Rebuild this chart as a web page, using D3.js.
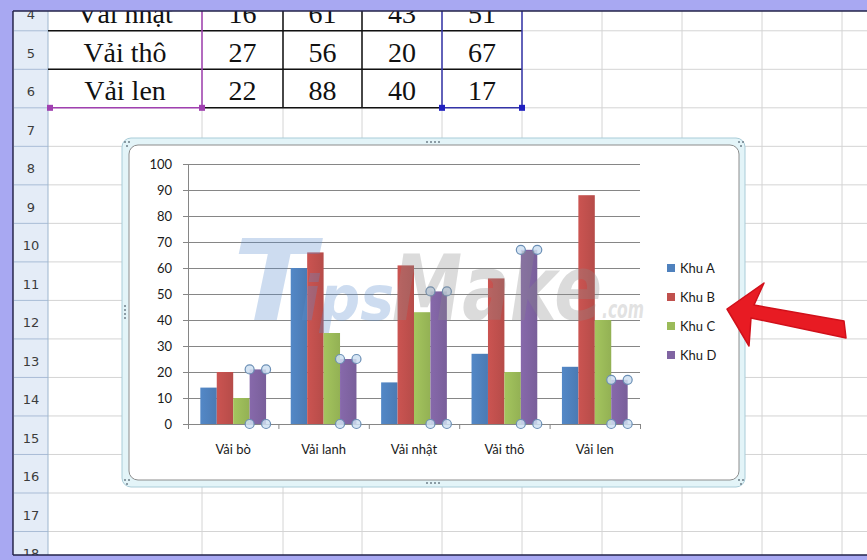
<!DOCTYPE html>
<html>
<head>
<meta charset="utf-8">
<script src="https://cdn.jsdelivr.net/npm/d3@7"></script>
<style>
  body { margin: 0; background: #fff; }
  svg { display: block; }
</style>
</head>
<body>
<svg id="svg0"></svg>
<script>
// chart data
let categories = ['Vải bò', 'Vải lanh', 'Vải nhật', 'Vải thô', 'Vải len'];
let seriesNames = ['Khu A', 'Khu B', 'Khu C', 'Khu D'];
let khuA = [14, 60, 16, 27, 22];
let khuB = [20, 66, 61, 56, 88];
let khuC = [10, 35, 43, 20, 40];
let khuD = [21, 25, 51, 67, 17];
let yTicks = [0, 10, 20, 30, 40, 50, 60, 70, 80, 90, 100];

// sheet rows visible in the screenshot, categories[0] sits in row 2
let rowNumbers = [4, 5, 6, 7, 8, 9, 10, 11, 12, 13, 14, 15, 16, 17, 18];
let firstDataRow = 2;

let values = [khuA, khuB, khuC, khuD];
let colors = ['#4F81BD', '#C0504D', '#9BBB59', '#8064A2'];

let width = 867, height = 560;
let svg = d3.select('#svg0').attr('width', width).attr('height', height);
let defs = svg.append('defs');

// window frame
svg.append('rect').attr('width', width).attr('height', height).style('fill', '#A8A8F2');
let sheet = {left: 13, top: 11, right: 867, bottom: 555};
defs.append('clipPath').attr('id', 'sheetClip').append('rect')
    .attr('x', sheet.left).attr('y', sheet.top)
    .attr('width', sheet.right - sheet.left).attr('height', sheet.bottom - sheet.top);
svg.append('rect').attr('x', sheet.left).attr('y', sheet.top)
    .attr('width', sheet.right - sheet.left).attr('height', sheet.bottom - sheet.top)
    .style('fill', '#fff');
let ws = svg.append('g').attr('clip-path', 'url(#sheetClip)');

// rows / columns of the worksheet
let rowTop = d3.scaleLinear().domain([6, 17]).range([69.3, 493]);
let colEdges = [48, 202, 283, 362, 442, 522, 602, 682, 762, 842, 922];
let headerX = [sheet.left + 1, 48];

ws.selectAll('.hline').data(d3.range(2, 20)).enter().append('line')
    .attr('class', 'hline')
    .attr('x1', headerX[1]).attr('x2', sheet.right)
    .attr('y1', d=>rowTop(d)).attr('y2', d=>rowTop(d))
    .style('stroke', '#D4D4D4').style('stroke-width', 1);
ws.selectAll('.vline').data(colEdges.slice(1)).enter().append('line')
    .attr('class', 'vline')
    .attr('x1', d=>d).attr('x2', d=>d)
    .attr('y1', sheet.top).attr('y2', sheet.bottom)
    .style('stroke', '#D4D4D4').style('stroke-width', 1);

// row header
ws.append('rect').attr('x', headerX[0]).attr('y', sheet.top)
    .attr('width', headerX[1] - headerX[0]).attr('height', sheet.bottom - sheet.top)
    .style('fill', '#E4ECF7');
ws.selectAll('.hsep').data(rowNumbers).enter().append('line')
    .attr('class', 'hsep')
    .attr('x1', headerX[0]).attr('x2', headerX[1])
    .attr('y1', d=>rowTop(d + 1)).attr('y2', d=>rowTop(d + 1))
    .style('stroke', '#A9BCD6').style('stroke-width', 1);
ws.append('line').attr('x1', headerX[1]).attr('x2', headerX[1])
    .attr('y1', sheet.top).attr('y2', sheet.bottom)
    .style('stroke', '#9EB6CE').style('stroke-width', 1);
ws.selectAll('.rownum').data(rowNumbers).enter().append('text')
    .attr('class', 'rownum')
    .attr('x', (headerX[0] + headerX[1]) / 2)
    .attr('y', d=>(rowTop(d) + rowTop(d + 1)) / 2 + 3)
    .text(d=>d)
    .style('font-family', 'DejaVu Sans').style('font-size', '13px').style('fill', '#3C3C3C')
    .style('text-anchor', 'middle').style('dominant-baseline', 'central');

// source table (rows 2..6, only 4..6 visible)
let tableRows = categories.map((c, i)=>({row: firstDataRow + i, cells: [c].concat(values.map(s=>s[i]))}));
let tbl = ws.append('g');
tableRows.forEach(r=>{
    r.cells.forEach((v, j)=>{
        tbl.append('text')
            .attr('x', (colEdges[j] + colEdges[j + 1]) / 2)
            .attr('y', (rowTop(r.row) + rowTop(r.row + 1)) / 2 + 2)
            .text(v)
            .style('font-family', 'Liberation Serif').style('font-size', '28px').style('fill', '#111')
            .style('text-anchor', 'middle').style('dominant-baseline', 'central');
    });
});
let lastRow = firstDataRow + categories.length;
tbl.selectAll('.trow').data(d3.range(firstDataRow, lastRow)).enter().append('line')
    .attr('class', 'trow')
    .attr('x1', colEdges[0]).attr('x2', colEdges[5])
    .attr('y1', d=>rowTop(d)).attr('y2', d=>rowTop(d))
    .style('stroke', '#111').style('stroke-width', 1.5);
let tableBottom = rowTop(lastRow);
let borderSegs = [
    {x1: colEdges[1], y1: sheet.top - 50, x2: colEdges[1], y2: tableBottom, c: '#A040B0'},
    {x1: colEdges[2], y1: sheet.top - 50, x2: colEdges[2], y2: tableBottom, c: '#111'},
    {x1: colEdges[3], y1: sheet.top - 50, x2: colEdges[3], y2: tableBottom, c: '#111'},
    {x1: colEdges[4], y1: sheet.top - 50, x2: colEdges[4], y2: tableBottom, c: '#3434A8'},
    {x1: colEdges[5], y1: sheet.top - 50, x2: colEdges[5], y2: tableBottom, c: '#3434A8'},
    {x1: colEdges[0], y1: tableBottom, x2: colEdges[1], y2: tableBottom, c: '#A040B0'},
    {x1: colEdges[1], y1: tableBottom, x2: colEdges[4], y2: tableBottom, c: '#111'},
    {x1: colEdges[4], y1: tableBottom, x2: colEdges[5], y2: tableBottom, c: '#3434A8'}
];
tbl.selectAll('.tseg').data(borderSegs).enter().append('line')
    .attr('class', 'tseg')
    .attr('x1', d=>d.x1).attr('y1', d=>d.y1).attr('x2', d=>d.x2).attr('y2', d=>d.y2)
    .style('stroke', d=>d.c).style('stroke-width', 1.5);
let corners = [{x: colEdges[0] + 2, c: '#A040B0'}, {x: colEdges[1], c: '#A040B0'},
               {x: colEdges[4], c: '#2020C0'}, {x: colEdges[5], c: '#2020C0'}];
tbl.selectAll('.tcorner').data(corners).enter().append('rect')
    .attr('class', 'tcorner')
    .attr('x', d=>d.x - 3).attr('y', tableBottom - 3).attr('width', 6).attr('height', 6)
    .style('fill', d=>d.c);

// window border lines
svg.append('line').attr('x1', sheet.left).attr('x2', sheet.right).attr('y1', sheet.top).attr('y2', sheet.top)
    .style('stroke', '#23234A').style('stroke-width', 1.5);
svg.append('line').attr('x1', sheet.left).attr('x2', sheet.right).attr('y1', sheet.bottom).attr('y2', sheet.bottom)
    .style('stroke', '#23234A').style('stroke-width', 1.5);
svg.append('line').attr('x1', sheet.left).attr('x2', sheet.left).attr('y1', sheet.top).attr('y2', sheet.bottom)
    .style('stroke', '#23234A').style('stroke-width', 1.5);

// chart object frame
let frame = {x0: 122, y0: 138, x1: 745, y1: 487};
let inner = {x0: 129, y0: 145, x1: 739, y1: 480};
svg.append('rect').attr('x', frame.x0).attr('y', frame.y0)
    .attr('width', frame.x1 - frame.x0).attr('height', frame.y1 - frame.y0).attr('rx', 9)
    .style('fill', '#E3F4F8').style('stroke', '#A9CCD8').style('stroke-width', 1);
svg.append('rect').attr('x', inner.x0).attr('y', inner.y0)
    .attr('width', inner.x1 - inner.x0).attr('height', inner.y1 - inner.y0).attr('rx', 9)
    .style('fill', '#fff').style('stroke', '#8C8C8C').style('stroke-width', 1);
let dots = [];
[[433, 142, 'h'], [433, 483, 'h'], [125, 312, 'v'], [742, 312, 'v']].forEach(p=>{
    d3.range(4).forEach(k=>{
        dots.push(p[2] === 'h' ? [p[0] - 6 + k * 4, p[1]] : [p[0], p[1] - 6 + k * 4]);
    });
});
[[127, 144], [741, 144], [127, 482], [741, 482]].forEach(p=>{
    dots.push([p[0] - 2, p[1] - 2], [p[0] + 2, p[1] - 2], [p[0], p[1] + 2]);
});
svg.selectAll('.hdot').data(dots).enter().append('circle')
    .attr('class', 'hdot').attr('cx', d=>d[0]).attr('cy', d=>d[1]).attr('r', 1)
    .style('fill', '#6E7F8A');

// scales
let plot = {left: 188, right: 640, top: 164, bottom: 424};
let xScale = d3.scaleBand().domain(categories).range([plot.left, plot.right])
    .paddingInner(1.5 / 5.5).paddingOuter(0.75 / 5.5);
let xSeries = d3.scaleBand().domain(seriesNames).range([0, xScale.bandwidth()]);
let yScale = d3.scaleLinear().domain([0, 100]).range([plot.bottom, plot.top]);
let catEdges = d3.scaleLinear().domain([0, categories.length]).range([plot.left, plot.right]);

let g = svg.append('g');

// gridlines
g.append('g').attr('transform', 'translate(' + plot.left + ', 0)')
    .call(d3.axisLeft(yScale).tickValues(yTicks).tickSize(-(plot.right - plot.left)).tickFormat(''))
    .call(a=>a.select('.domain').remove())
    .selectAll('line').style('stroke', '#868686').style('stroke-width', 1);

// y axis
let yAxis = g.append('g').attr('transform', 'translate(' + plot.left + ', 0)')
    .call(d3.axisLeft(yScale).tickValues(yTicks).tickSize(5).tickPadding(11));
yAxis.selectAll('line, path').style('stroke', '#868686');
yAxis.selectAll('text').style('font-family', 'Lato').style('font-size', '13px').style('fill', '#1A1A1A');

// gradients for bars
colors.forEach((c, i)=>{
    let gr = defs.append('linearGradient').attr('id', 'grad' + i).attr('x1', 0).attr('x2', 1).attr('y1', 0).attr('y2', 0);
    gr.append('stop').attr('offset', '0%').attr('stop-color', d3.color(c).brighter(0.15));
    gr.append('stop').attr('offset', '100%').attr('stop-color', d3.color(c).darker(0.15));
});

// bars
let barData = [];
categories.forEach((c, i)=>{
    seriesNames.forEach((s, j)=>{
        barData.push({cat: c, series: s, si: j, value: values[j][i]});
    });
});
g.selectAll('.bar').data(barData).enter().append('rect')
    .attr('class', 'bar')
    .attr('x', d=>xScale(d.cat) + xSeries(d.series))
    .attr('y', d=>yScale(d.value))
    .attr('width', xSeries.bandwidth())
    .attr('height', d=>yScale(0) - yScale(d.value))
    .style('fill', d=>'url(#grad' + d.si + ')');

// x axis: line, boundary ticks, labels
let xTicks = g.append('g').attr('transform', 'translate(0, ' + plot.bottom + ')')
    .call(d3.axisBottom(catEdges).ticks(categories.length).tickSize(5).tickFormat(''));
xTicks.selectAll('line, path').style('stroke', '#868686');
let xAxis = g.append('g').attr('transform', 'translate(0, ' + plot.bottom + ')')
    .call(d3.axisBottom(xScale).tickSize(0).tickPadding(21));
xAxis.select('.domain').remove();
xAxis.selectAll('text').style('font-family', 'Lato').style('font-size', '13px').style('fill', '#1A1A1A');

// selection handles on Khu D
let selected = barData.filter(d=>d.series === seriesNames[3]);
let handles = [];
selected.forEach(d=>{
    let x0 = xScale(d.cat) + xSeries(d.series);
    let x1 = x0 + xSeries.bandwidth();
    [yScale(d.value), yScale(0)].forEach(y=>{ handles.push([x0, y], [x1, y]); });
});
g.selectAll('.handle').data(handles).enter().append('circle')
    .attr('class', 'handle').attr('cx', d=>d[0]).attr('cy', d=>d[1]).attr('r', 4.5)
    .style('fill', '#CFE1F2').style('fill-opacity', 0.85)
    .style('stroke', '#6B8FB5').style('stroke-width', 1.2);

// legend
let legend = g.selectAll('.legend').data(seriesNames).enter().append('g')
    .attr('class', 'legend')
    .attr('transform', (d, i)=>'translate(667, ' + (268 + i * 29) + ')');
legend.append('rect').attr('x', 0).attr('y', -4).attr('width', 8).attr('height', 8)
    .style('fill', (d, i)=>colors[i]);
legend.append('text').attr('x', 13).attr('y', 0).text(d=>d)
    .style('font-family', 'Lato').style('font-size', '13px').style('fill', '#1A1A1A')
    .style('dominant-baseline', 'central');

// watermark
let wm = svg.append('g').style('opacity', 0.3).style('font-family', 'DejaVu Sans')
    .style('font-weight', 'bold').style('font-style', 'italic');
wm.append('text').attr('x', 233).attr('y', 320).text('T')
    .style('font-size', '112px').style('fill', '#5B8FD0')
    .attr('textLength', 82).attr('lengthAdjust', 'spacingAndGlyphs');
wm.append('text').attr('x', 300).attr('y', 320).text('ips')
    .style('font-size', '62px').style('fill', '#5B8FD0')
    .attr('textLength', 94).attr('lengthAdjust', 'spacingAndGlyphs');
wm.append('text').attr('x', 392).attr('y', 320).text('Make')
    .style('font-size', '90px').style('fill', '#8C8C8C')
    .attr('textLength', 210).attr('lengthAdjust', 'spacingAndGlyphs');
wm.append('text').attr('x', 602).attr('y', 318).text('.com')
    .style('font-size', '24px').style('fill', '#A0A0A0')
    .attr('textLength', 42).attr('lengthAdjust', 'spacingAndGlyphs');

// red arrow pointing at the legend
let arrow = [[727, 309], [764, 283], [754, 305], [844, 321], [846, 338], [751, 318], [749, 346]];
svg.append('path').attr('d', d3.line()(arrow) + 'Z')
    .style('fill', '#E81B23').style('stroke', '#D0101A').style('stroke-width', 1.5)
    .style('stroke-linejoin', 'round');
</script>
</body>
</html>
